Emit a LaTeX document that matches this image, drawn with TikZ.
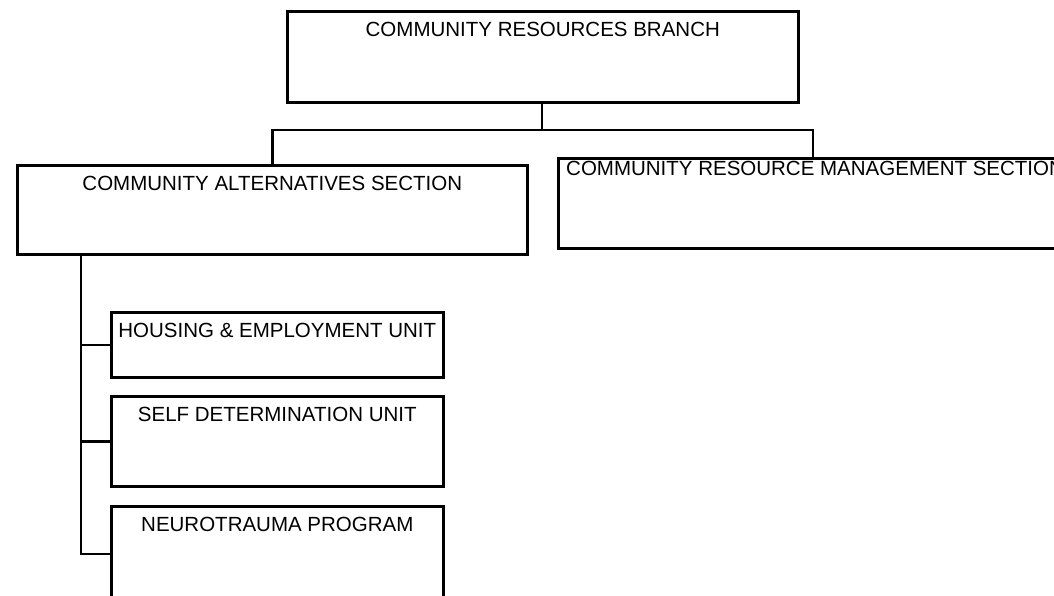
\documentclass[tikz,border=0pt]{standalone}
\usepackage{fontspec}
\setmainfont{Liberation Sans}
\begin{document}
\begin{tikzpicture}[x=1pt,y=-1pt,
  box/.style={draw, line width=2.6pt, rectangle, inner sep=0pt, anchor=north west},
  lbl/.style={font=\fontsize{20.5}{24}\selectfont, inner sep=0pt, anchor=north},
  link/.style={line width=2.6pt}]
\useasboundingbox (0,0) rectangle (1054,595);
\clip (0,0) rectangle (1054,595);
% boxes
\node[box, minimum width=511pt, minimum height=91pt,
  label={[lbl, yshift=-12pt]north:COMMUNITY RESOURCES BRANCH}] (crb) at (286,10) {};
\node[box, minimum width=510pt, minimum height=89pt,
  label={[lbl, yshift=-12pt]north:COMMUNITY ALTERNATIVES SECTION}] (cas) at (16,164) {};
\node[box, minimum width=620pt, minimum height=90pt,
  label={[lbl, anchor=north west, xshift=9pt, yshift=-4pt]north west:COMMUNITY RESOURCE MANAGEMENT SECTION}] (crms) at (557,157) {};
\node[box, minimum width=332pt, minimum height=65pt,
  label={[lbl, yshift=-12pt]north:HOUSING \& EMPLOYMENT UNIT}] (heu) at (110,311) {};
\node[box, minimum width=332pt, minimum height=90pt,
  label={[lbl, yshift=-12pt]north:SELF DETERMINATION UNIT}] (sdu) at (110,395) {};
\node[box, minimum width=332pt, minimum height=95pt,
  label={[lbl, yshift=-12pt]north:NEUROTRAUMA PROGRAM}] (np) at (110,505) {};
% connectors
\coordinate (bus) at (542,130);
\draw[link] (crb.south -| bus) -- (bus);
\draw[link] (cas.north) |- (bus);
\draw[link] ([xshift=256pt]crms.north west) |- (bus);
\coordinate (sp) at ([xshift=65pt]cas.south west);
\draw[link] (sp) |- (heu.west);
\draw[link] (sp) |- (sdu.west);
\draw[link] (sp) |- (np.west);
\end{tikzpicture}
\end{document}
